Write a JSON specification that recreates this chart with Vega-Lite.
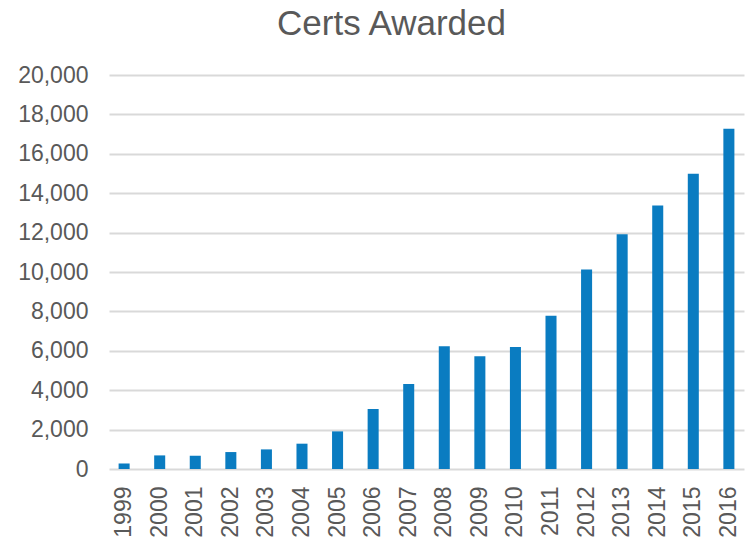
{
  "$schema": "https://vega.github.io/schema/vega-lite/v6.json",
  "width": 635,
  "height": 394,
  "autosize": {"type": "none"},
  "padding": {"left": 109, "top": 75, "right": 1, "bottom": 71},
  "title": {
    "text": "Certs Awarded",
    "font": "Liberation Sans",
    "fontSize": 35,
    "fontWeight": "normal",
    "color": "#595959",
    "anchor": "middle",
    "dx": -35,
    "offset": 22
  },
  "data": {
    "values": [
      {"year": "1999", "certs": 280},
      {"year": "2000", "certs": 690},
      {"year": "2001", "certs": 675},
      {"year": "2002", "certs": 860},
      {"year": "2003", "certs": 995},
      {"year": "2004", "certs": 1285},
      {"year": "2005", "certs": 1910},
      {"year": "2006", "certs": 3045},
      {"year": "2007", "certs": 4315},
      {"year": "2008", "certs": 6230},
      {"year": "2009", "certs": 5720},
      {"year": "2010", "certs": 6195},
      {"year": "2011", "certs": 7785},
      {"year": "2012", "certs": 10130},
      {"year": "2013", "certs": 11910},
      {"year": "2014", "certs": 13370},
      {"year": "2015", "certs": 14990},
      {"year": "2016", "certs": 17270}
    ]
  },
  "mark": {"type": "bar", "color": "#0a7cc1"},
  "encoding": {
    "x": {
      "field": "year",
      "type": "ordinal",
      "scale": {"paddingInner": 0.69, "paddingOuter": 0.27},
      "axis": {
        "title": null,
        "labelAngle": -90,
        "labelFont": "Liberation Sans",
        "labelFontSize": 23,
        "labelColor": "#595959",
        "labelPadding": 17,
        "domain": false,
        "ticks": false
      }
    },
    "y": {
      "field": "certs",
      "type": "quantitative",
      "scale": {"domain": [0, 20000], "nice": false},
      "axis": {
        "title": null,
        "values": [0, 2000, 4000, 6000, 8000, 10000, 12000, 14000, 16000, 18000, 20000],
        "format": ",d",
        "labelFont": "Liberation Sans",
        "labelFontSize": 23,
        "labelColor": "#595959",
        "labelPadding": 21,
        "domain": false,
        "ticks": false,
        "gridColor": "#d9d9d9",
        "gridWidth": 2
      }
    }
  },
  "config": {"view": {"stroke": null}}
}
